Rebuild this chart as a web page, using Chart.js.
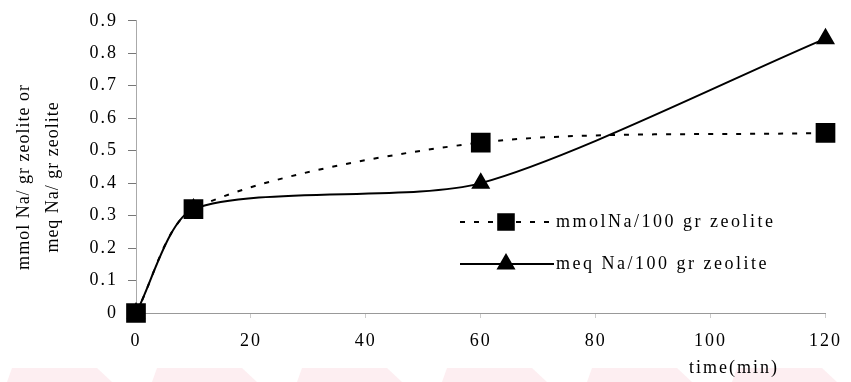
<!DOCTYPE html>
<html>
<head>
<meta charset="utf-8">
<script src="https://cdn.jsdelivr.net/npm/chart.js@4"></script>
<style>
  html, body { margin: 0; padding: 0; background: #fff; }
  #wrap { width: 851px; height: 382px; position: relative; }
</style>
</head>
<body>
<div id="wrap"><canvas id="myChart" width="851" height="382"></canvas></div>
<script>
// time in minutes
var times = [0, 10, 60, 120];
// mmol Na per 100 gr zeolite
var mmolNa = [0, 0.32, 0.525, 0.555];
// meq Na per 100 gr zeolite
var meqNa = [0, 0.32, 0.4, 0.845];
var seriesLabels = ["mmolNa/100 gr zeolite", "meq Na/100 gr zeolite"];
var yTitle = ["mmol Na/ gr zeolite or", "meq Na/ gr zeolite"];
var xTitle = "time(min)";

var serif = "'Liberation Serif', 'Times New Roman', serif";

function toPoints(xs, ys) {
  var pts = [];
  for (var i = 0; i < xs.length; i++) {
    pts.push({ x: xs[i], y: ys[i] });
  }
  return pts;
}

// letter spacing for the tick text (the printed figure has wide type)
var spacing = {
  id: "spacing",
  beforeDraw: function (chart) {
    chart.ctx.letterSpacing = "2px";
  }
};

// faint pink strip along the bottom edge
var strip = {
  id: "strip",
  beforeDraw: function (chart) {
    var ctx = chart.ctx;
    ctx.save();
    ctx.fillStyle = "rgba(252, 222, 228, 0.5)";
    var top = 368, bottom = 382;
    for (var x = 12; x < chart.width; x += 145) {
      ctx.beginPath();
      ctx.moveTo(x, top);
      ctx.lineTo(x + 85, top);
      ctx.lineTo(x + 100, bottom);
      ctx.lineTo(x - 5, bottom);
      ctx.closePath();
      ctx.fill();
    }
    ctx.restore();
  }
};

// legend sitting inside the plot, plus both axis titles
var legendBox = {
  id: "legendBox",
  afterDraw: function (chart) {
    var ctx = chart.ctx;
    var area = chart.chartArea;
    ctx.save();
    ctx.letterSpacing = "2.5px";
    ctx.font = "18px " + serif;
    ctx.fillStyle = "#000";
    ctx.textBaseline = "middle";
    var rows = [222, 264];
    var x0 = 460;
    chart.data.datasets.forEach(function (ds, i) {
      var y = rows[i];
      ctx.strokeStyle = ds.borderColor;
      ctx.lineWidth = ds.borderWidth;
      ctx.setLineDash(ds.borderDash || []);
      ctx.beginPath();
      ctx.moveTo(x0, y);
      ctx.lineTo(x0 + 94, y);
      ctx.stroke();
      ctx.setLineDash([]);
      Chart.helpers.drawPoint(ctx, {
        pointStyle: ds.pointStyle,
        radius: ds.pointStyle === "rect" ? 11 : ds.pointRadius,
        borderWidth: 1
      }, x0 + 46, y);
      ctx.fillStyle = "#000";
      ctx.textAlign = "left";
      ctx.fillText(ds.label, x0 + 96, y);
    });

    // x title, right of centre under the axis
    ctx.letterSpacing = "2px";
    ctx.textAlign = "center";
    ctx.fillText(xTitle, 734, 368);

    // y title, two rotated lines
    ctx.letterSpacing = "1px";
    ctx.translate(0, (area.top + area.bottom) / 2 + 10);
    ctx.rotate(-Math.PI / 2);
    ctx.fillText(yTitle[0], 0, 24);
    ctx.fillText(yTitle[1], 0, 53);
    ctx.restore();
  }
};

var ctx = document.getElementById("myChart");
var myChart = new Chart(ctx, {
  type: "line",
  data: {
    datasets: [
      {
        label: seriesLabels[0],
        data: toPoints(times, mmolNa),
        borderColor: "#000",
        backgroundColor: "#000",
        borderWidth: 2,
        borderDash: [5, 9],
        pointStyle: "rect",
        pointRadius: 12.5,
        tension: 0.28,
        clip: false
      },
      {
        label: seriesLabels[1],
        data: toPoints(times, meqNa),
        borderColor: "#000",
        backgroundColor: "#000",
        borderWidth: 2,
        pointStyle: "triangle",
        pointRadius: 9,
        tension: 0.25,
        clip: false
      }
    ]
  },
  options: {
    responsive: false,
    animation: false,
    layout: { padding: { top: 10, right: 17, left: 0, bottom: 0 } },
    plugins: {
      legend: { display: false },
      tooltip: { enabled: false }
    },
    scales: {
      x: {
        type: "linear",
        min: 0,
        max: 120,
        ticks: {
          stepSize: 20,
          color: "#000",
          padding: 12,
          font: { family: serif, size: 18 }
        },
        grid: {
          drawOnChartArea: false,
          tickLength: 5,
          color: "#ccc"
        },
        border: { color: "#999", width: 1 },
        afterFit: function (scale) { scale.width = scale.width; scale.height = 69; }
      },
      y: {
        min: 0,
        max: 0.9,
        ticks: {
          stepSize: 0.1,
          color: "#000",
          padding: 10,
          font: { family: serif, size: 18 },
          callback: function (v) { return String(Number(v.toFixed(1))); }
        },
        grid: {
          drawOnChartArea: false,
          tickLength: 8,
          color: "#777"
        },
        border: { color: "#aaa", width: 1, dash: [2, 3] },
        afterFit: function (scale) { scale.width = 136; }
      }
    }
  },
  plugins: [spacing, strip, legendBox]
});
</script>
</body>
</html>
